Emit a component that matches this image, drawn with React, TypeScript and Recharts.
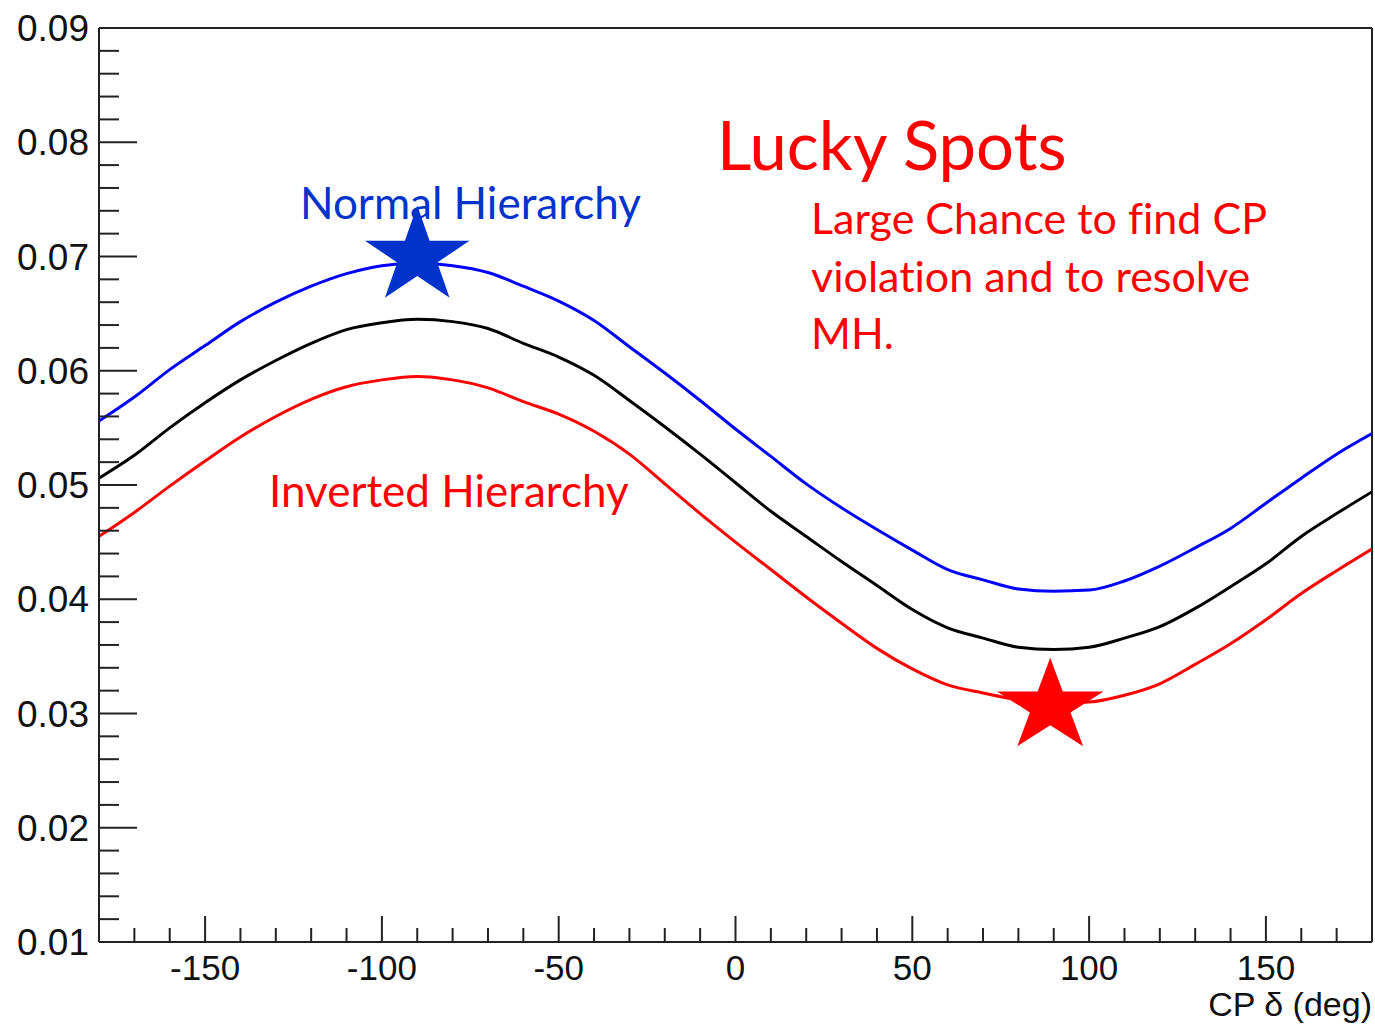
import React from 'react';
import { ComposedChart, Line, Scatter, XAxis, YAxis, ReferenceLine } from 'recharts';

// CP phase delta (deg) sampled every 10 degrees
const deltaDeg = [
  -180, -170, -160, -150, -140, -130, -120, -110, -100, -90, -80, -70, -60, -50, -40, -30, -20, -10,
  0, 10, 20, 30, 40, 50, 60, 70, 80, 90, 100, 110, 120, 130, 140, 150, 160, 170, 180,
];

// appearance probability, normal hierarchy (upper band)
const normalHierarchy = [
  0.0556, 0.0577, 0.0601, 0.0622, 0.0643, 0.0660, 0.0674, 0.0685, 0.0692, 0.0694, 0.0692, 0.0686,
  0.0674, 0.0661, 0.0644, 0.0621, 0.0598, 0.0574, 0.0549, 0.0525, 0.0501, 0.0480, 0.0461, 0.0443,
  0.0426, 0.0417, 0.0409, 0.0407, 0.0408, 0.0416, 0.0429, 0.0445, 0.0462, 0.0484, 0.0506, 0.0527, 0.0545,
];

// central curve
const centralCurve = [
  0.0506, 0.0526, 0.0550, 0.0572, 0.0592, 0.0609, 0.0624, 0.0636, 0.0642, 0.0645, 0.0643, 0.0637,
  0.0624, 0.0612, 0.0596, 0.0574, 0.0551, 0.0527, 0.0502, 0.0477, 0.0455, 0.0433, 0.0412, 0.0391,
  0.0375, 0.0366, 0.0358, 0.0356, 0.0358, 0.0366, 0.0376, 0.0392, 0.0411, 0.0431, 0.0455, 0.0475, 0.0494,
];

// inverted hierarchy (lower band)
const invertedHierarchy = [
  0.0455, 0.0476, 0.0499, 0.0521, 0.0542, 0.0560, 0.0575, 0.0586, 0.0592, 0.0595, 0.0592, 0.0585,
  0.0573, 0.0562, 0.0547, 0.0527, 0.0501, 0.0475, 0.0450, 0.0426, 0.0402, 0.0379, 0.0357, 0.0339,
  0.0325, 0.0318, 0.0312, 0.0309, 0.0310, 0.0316, 0.0326, 0.0343, 0.0361, 0.0382, 0.0405, 0.0425, 0.0444,
];

const xMajorTicks = [-150, -100, -50, 0, 50, 100, 150];
const xTickLabels = ['-150', '-100', '-50', '0', '50', '100', '150'];
const yMajorTicks = [0.01, 0.02, 0.03, 0.04, 0.05, 0.06, 0.07, 0.08, 0.09];
const yTickLabels = ['0.01', '0.02', '0.03', '0.04', '0.05', '0.06', '0.07', '0.08', '0.09'];

// the two "lucky spots"
const normalStar = [{ delta: -90, p: 0.0700 }];
const invertedStar = [{ delta: 89, p: 0.0306 }];

const rows = deltaDeg.map((d, i) => ({
  delta: d,
  nh: normalHierarchy[i],
  mid: centralCurve[i],
  ih: invertedHierarchy[i],
}));

// minor ticks: every 10 deg on x, every 0.002 on y
const xTicks = deltaDeg.filter((d) => d > -180 && d < 180);
const yTicks: number[] = [];
yMajorTicks.forEach((m, i) => {
  if (i === yMajorTicks.length - 1) {
    yTicks.push(m);
    return;
  }
  for (let k = 0; k < 5; k++) yTicks.push(m + k * 0.002);
});

const AXIS = '#222';
const AXIS_FONT = '"Liberation Sans", Arial, sans-serif';
const NOTE_FONT = 'Lato, "Open Sans", sans-serif';
const BLUE = '#0033cc';
const RED = '#ff0000';
const noteStyle = { fontVariantLigatures: 'none' as const };

const YTick = (props: any) => {
  const { x, y, payload } = props;
  const idx = yMajorTicks.findIndex((m) => Math.abs(m - payload.value) < 1e-6);
  const major = idx >= 0;
  return (
    <g>
      <line x1={x} x2={x + (major ? 38 : 20)} y1={y} y2={y} stroke={AXIS} strokeWidth={2} />
      {major && (
        <text x={x - 10} y={y + 13} textAnchor="end" fontSize={37} fontFamily={AXIS_FONT} fill="#111">
          {yTickLabels[idx]}
        </text>
      )}
    </g>
  );
};

const XTick = (props: any) => {
  const { x, y, payload } = props;
  const idx = xMajorTicks.indexOf(payload.value);
  const major = idx >= 0;
  return (
    <g>
      <line x1={x} x2={x} y1={y} y2={y - (major ? 26 : 14)} stroke={AXIS} strokeWidth={2} />
      {major && (
        <text x={x} y={y + 38} textAnchor="middle" fontSize={35} fontFamily={AXIS_FONT} fill="#111">
          {xTickLabels[idx]}
        </text>
      )}
    </g>
  );
};

const star = (rx: number, ry: number, fill: string) => (props: any) => {
  const { cx, cy } = props;
  const pts: string[] = [];
  for (let i = 0; i < 10; i++) {
    const a = -Math.PI / 2 + (i * Math.PI) / 5;
    const r = i % 2 === 0 ? 1 : 0.382;
    pts.push(`${cx + rx * r * Math.cos(a)},${cy + ry * r * Math.sin(a)}`);
  }
  return <polygon points={pts.join(' ')} fill={fill} />;
};

export default function App() {
  return (
    <div style={{ position: 'absolute', left: 0, top: 0, background: '#fff' }}>
      <ComposedChart
        width={1375}
        height={1024}
        data={rows}
        margin={{ top: 28, right: 3, left: 0, bottom: 0 }}
      >
        <XAxis
          dataKey="delta"
          type="number"
          domain={[-180, 180]}
          ticks={xTicks}
          interval={0}
          height={82}
          tickSize={0}
          tickMargin={0}
          tickLine={false}
          tick={<XTick />}
          axisLine={{ stroke: AXIS, strokeWidth: 2 }}
          allowDataOverflow
        />
        <YAxis
          type="number"
          domain={[0.01, 0.09]}
          ticks={yTicks}
          interval={0}
          width={99}
          tickSize={0}
          tickMargin={0}
          tickLine={false}
          tick={<YTick />}
          axisLine={{ stroke: AXIS, strokeWidth: 2 }}
          allowDataOverflow
        />
        <ReferenceLine y={0.09} stroke={AXIS} strokeWidth={2} />
        <ReferenceLine x={180} stroke={AXIS} strokeWidth={2} />

        <text x={717} y={170} fontSize={67} fontFamily={NOTE_FONT} fill={RED} style={noteStyle}>Lucky Spots</text>
        <text x={811} y={234} fontSize={43} fontFamily={NOTE_FONT} fill={RED} style={noteStyle}>Large Chance to find CP</text>
        <text x={811} y={292} fontSize={43} fontFamily={NOTE_FONT} fill={RED} style={noteStyle}>violation and to resolve</text>
        <text x={811} y={349} fontSize={43} fontFamily={NOTE_FONT} fill={RED} style={noteStyle}>MH.</text>
        <text x={300} y={219} fontSize={44} fontFamily={NOTE_FONT} fill={BLUE} style={noteStyle}>Normal Hierarchy</text>
        <text x={269} y={507} fontSize={44} fontFamily={NOTE_FONT} fill={RED} style={noteStyle}>Inverted Hierarchy</text>
        <text x={1372} y={1016} textAnchor="end" fontSize={34} fontFamily={AXIS_FONT} fill="#111">CP δ (deg)</text>

        <Line dataKey="nh" type="monotone" stroke="#0000ff" strokeWidth={3} dot={false} isAnimationActive={false} />
        <Line dataKey="mid" type="monotone" stroke="#000000" strokeWidth={3} dot={false} isAnimationActive={false} />
        <Line dataKey="ih" type="monotone" stroke={RED} strokeWidth={3} dot={false} isAnimationActive={false} />

        <Scatter data={normalStar} dataKey="p" shape={star(55, 51, BLUE)} isAnimationActive={false} />
        <Scatter data={invertedStar} dataKey="p" shape={star(56, 49, RED)} isAnimationActive={false} />
      </ComposedChart>
    </div>
  );
}
